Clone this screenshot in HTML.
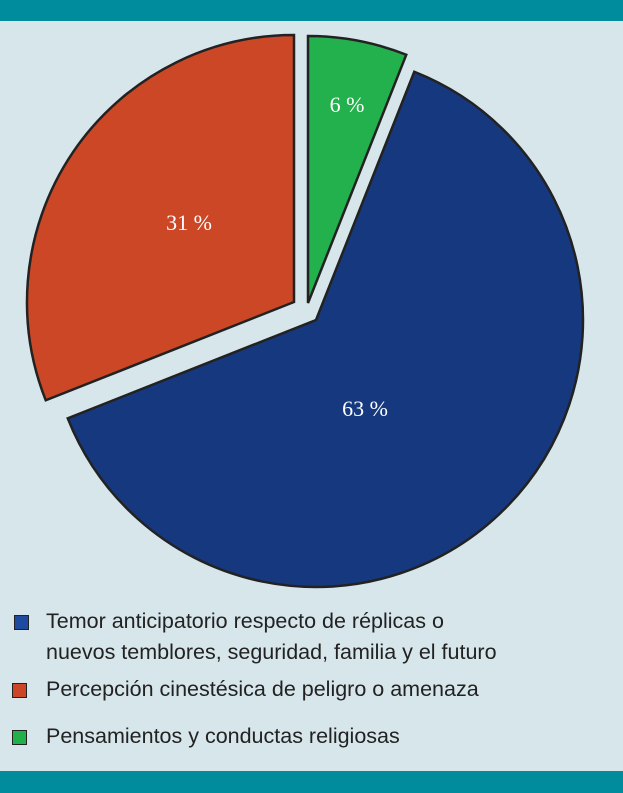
<!DOCTYPE html>
<html><head><meta charset="utf-8"><style>
body{margin:0;width:623px;height:793px;background:#d7e6eb;font-family:"Liberation Sans",sans-serif;position:relative;overflow:hidden}
.bar{position:absolute;left:0;width:623px;background:#008c9c}
.leg{position:absolute;left:0;font-size:21.5px;color:#222;line-height:31px}
.sw{position:absolute;width:15px;height:15px;border:1.5px solid #222;box-sizing:border-box}
</style></head><body>
<div class="bar" style="top:0;height:21px"></div>
<div class="bar" style="top:771px;height:22px"></div>
<svg id="pie" width="623" height="600" style="position:absolute;left:0;top:0"></svg>
<div>
<div class="sw" style="left:14px;top:615px;background:#1e4aa0"></div>
<div class="leg" style="left:46px;top:606px">Temor anticipatorio respecto de réplicas o<br>nuevos temblores, seguridad, familia y el futuro</div>
<div class="sw" style="left:12px;top:683px;background:#cc4526"></div>
<div class="leg" style="left:46px;top:674px">Percepción cinestésica de peligro o amenaza</div>
<div class="sw" style="left:12px;top:730px;background:#22b04b"></div>
<div class="leg" style="left:46px;top:721px">Pensamientos y conductas religiosas</div>
</div>
<script>
const categories=["Pensamientos","Temor","Percepcion"];
const values=[6,63,31];
const labels=["6 %","63 %","31 %"];
const colors=["#22b14c","#16387f","#cb4726"];
const R=267;
const centers=[[308,303],[316,320],[294,302]];
const labelPos=[[347,104],[365,408],[189,222]];
const svg=document.getElementById('pie');
const NS="http://www.w3.org/2000/svg";
const total=values.reduce((a,b)=>a+b,0);
let a0=0;
values.forEach((v,i)=>{
  const a1=a0+v/total*2*Math.PI;
  const ox=centers[i][0], oy=centers[i][1];
  const p=(a,r)=>[ox+Math.sin(a)*r,oy-Math.cos(a)*r];
  const s=p(a0,R),e=p(a1,R);
  const path=document.createElementNS(NS,'path');
  path.setAttribute('d',`M${ox},${oy}L${s[0]},${s[1]}A${R},${R} 0 ${a1-a0>Math.PI?1:0} 1 ${e[0]},${e[1]}Z`);
  path.setAttribute('fill',colors[i]);path.setAttribute('stroke','#222');path.setAttribute('stroke-width','2.5');
  
  
  svg.appendChild(path);
  const t=document.createElementNS(NS,'text');
  t.setAttribute('x',labelPos[i][0]);t.setAttribute('y',labelPos[i][1]+8);t.setAttribute('text-anchor','middle');
  t.setAttribute('fill','#fff');t.setAttribute('font-size','22');t.setAttribute('font-family','Liberation Serif, serif');
  t.textContent=labels[i];
  
  
  svg.appendChild(t);
  a0=a1;
});
</script>
</body></html>
